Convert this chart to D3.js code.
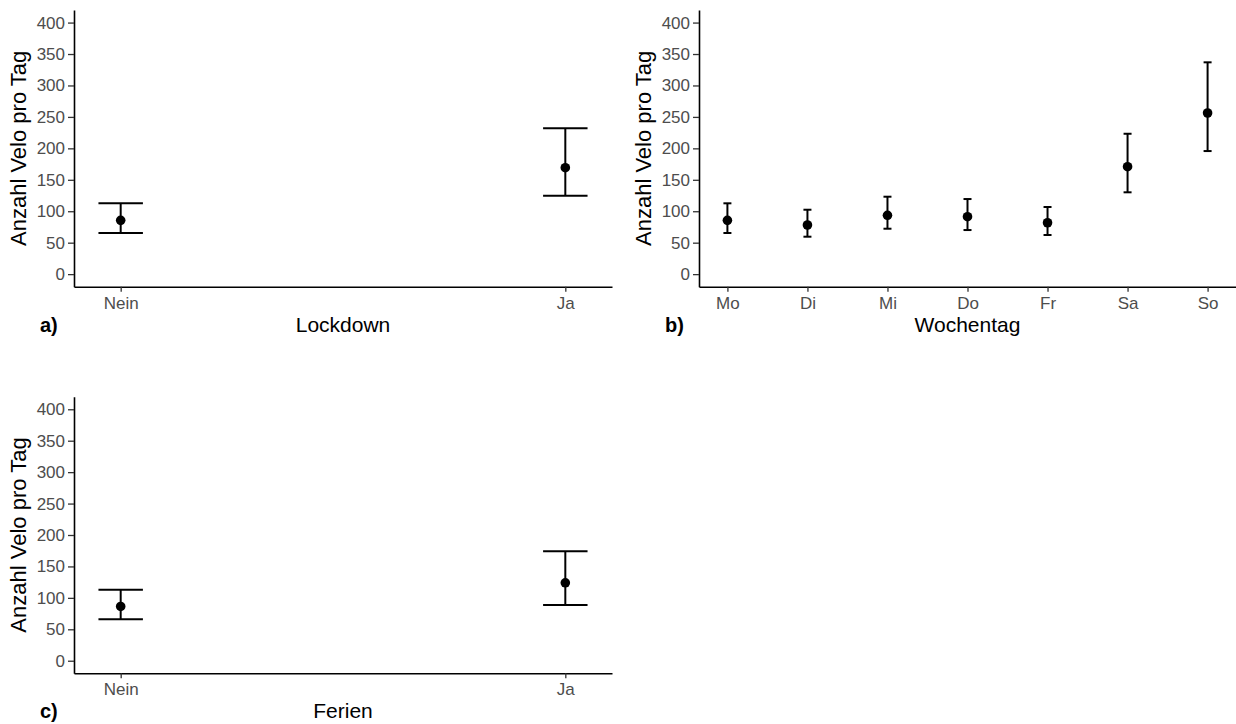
<!DOCTYPE html>
<html>
<head>
<meta charset="utf-8">
<script src="https://cdn.jsdelivr.net/npm/d3@7"></script>
<style>
  body { margin: 0; background: #fff; }
  svg { display: block; font-family: "Liberation Sans", Arial, sans-serif; }
  .tick text { fill: #4d4d4d; font-size: 17px; }
  .tick line { stroke: #333; stroke-width: 1.3px; }
  .domain { stroke: #000; stroke-width: 1.6px; }
</style>
</head>
<body>
<div id="chart"></div>
<script>
// values (mean and interval per group)
var lockdownCats = ["Nein", "Ja"];
var lockdownMean = [85.5, 169.2];
var lockdownLow = [65.4, 124.7];
var lockdownHigh = [112.6, 231.8];

var dayCats = ["Mo", "Di", "Mi", "Do", "Fr", "Sa", "So"];
var dayMean = [85.5, 78.1, 93.5, 91.3, 81.7, 170.8, 256.2];
var dayLow = [65.4, 59.5, 72.2, 70.1, 62.2, 130.1, 195.7];
var dayHigh = [112.6, 102.4, 123.1, 119.4, 106.7, 223.2, 336.8];

var ferienCats = ["Nein", "Ja"];
var ferienMean = [86.3, 124.0];
var ferienLow = [66.0, 88.6];
var ferienHigh = [112.8, 174.0];

var yTicks = [0, 50, 100, 150, 200, 250, 300, 350, 400];
var yTitle = "Anzahl Velo pro Tag";

var width = 1236, height = 724;
var svg = d3.select("#chart").append("svg")
    .attr("width", width).attr("height", height);

function drawPanel(cfg) {
  var n = cfg.cats.length;
  // ggplot-like padding: errorbar width 0.1 plus 5% expansion
  var pad = 0.05 + 0.05 * (n - 1 + 0.1);
  var x = d3.scalePoint().domain(cfg.cats).range([cfg.x0, cfg.x1]).padding(pad);
  var y = d3.scaleLinear().domain([-20, 420]).range([cfg.y1, cfg.y0]);
  var capHalf = 0.05 * x.step();

  var g = svg.append("g");

  // axes
  g.append("g")
      .attr("transform", "translate(" + cfg.x0 + ",0)")
      .call(d3.axisLeft(y).tickValues(yTicks).tickSize(6).tickPadding(3).tickSizeOuter(0));
  g.append("g")
      .attr("transform", "translate(0," + cfg.y1 + ")")
      .call(d3.axisBottom(x).tickSize(5).tickPadding(5).tickSizeOuter(0));

  var data = cfg.cats.map(function (c, i) {
    return { cat: c, mean: cfg.mean[i], low: cfg.low[i], high: cfg.high[i] };
  });

  var bars = g.selectAll(".eb").data(data).enter().append("g").attr("class", "eb");
  bars.append("line")
      .attr("x1", function (d) { return x(d.cat); })
      .attr("x2", function (d) { return x(d.cat); })
      .attr("y1", function (d) { return y(d.low); })
      .attr("y2", function (d) { return y(d.high); })
      .attr("stroke", "#000").attr("stroke-width", 2);
  ["low", "high"].forEach(function (k) {
    bars.append("line")
        .attr("x1", function (d) { return x(d.cat) - capHalf; })
        .attr("x2", function (d) { return x(d.cat) + capHalf; })
        .attr("y1", function (d) { return y(d[k]); })
        .attr("y2", function (d) { return y(d[k]); })
        .attr("stroke", "#000").attr("stroke-width", 2);
  });
  bars.append("circle")
      .attr("cx", function (d) { return x(d.cat); })
      .attr("cy", function (d) { return y(d.mean); })
      .attr("r", 4.8)
      .attr("fill", "#000");

  // y title
  g.append("text")
      .attr("transform", "translate(" + (cfg.x0 - 48) + "," + ((cfg.y0 + cfg.y1) / 2) + ") rotate(-90)")
      .attr("text-anchor", "middle")
      .attr("font-size", "22px")
      .attr("fill", "#000")
      .text(yTitle);

  // x title
  g.append("text")
      .attr("x", (cfg.x0 + cfg.x1) / 2)
      .attr("y", cfg.y1 + 45)
      .attr("text-anchor", "middle")
      .attr("font-size", "21px")
      .attr("fill", "#000")
      .text(cfg.xTitle);

  // panel tag
  g.append("text")
      .attr("x", cfg.x0 - 34)
      .attr("y", cfg.y1 + 45)
      .attr("font-size", "20px")
      .attr("font-weight", "bold")
      .attr("fill", "#000")
      .text(cfg.tag);
}

drawPanel({ cats: lockdownCats, mean: lockdownMean, low: lockdownLow, high: lockdownHigh,
  x0: 74, x1: 612, y0: 10, y1: 286.7, xTitle: "Lockdown", tag: "a)" });
drawPanel({ cats: dayCats, mean: dayMean, low: dayLow, high: dayHigh,
  x0: 699, x1: 1236, y0: 10, y1: 286.7, xTitle: "Wochentag", tag: "b)" });
drawPanel({ cats: ferienCats, mean: ferienMean, low: ferienLow, high: ferienHigh,
  x0: 74, x1: 612, y0: 396.7, y1: 673.3, xTitle: "Ferien", tag: "c)" });
</script>
</body>
</html>
